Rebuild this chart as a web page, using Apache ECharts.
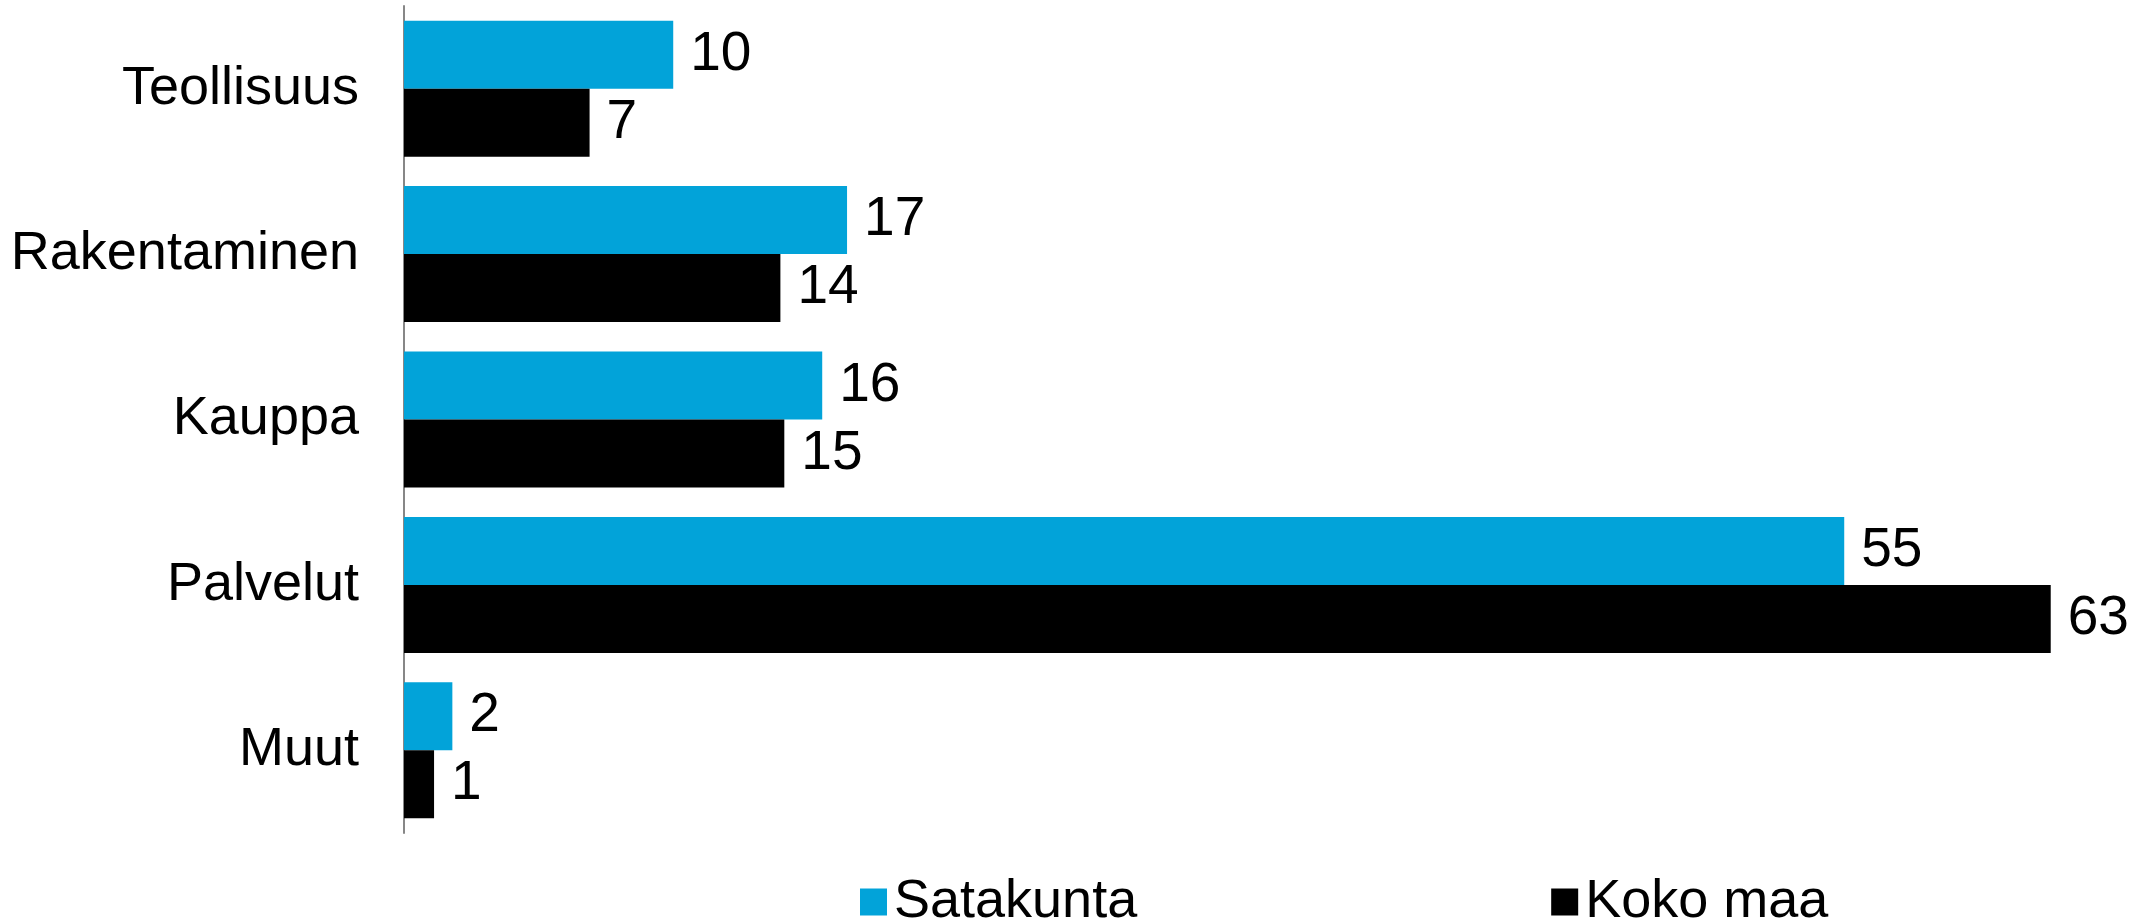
<!DOCTYPE html>
<html>
<head>
<meta charset="utf-8">
<script src="https://cdn.jsdelivr.net/npm/echarts@6/dist/echarts.min.js"></script>
<style>
  html, body { margin: 0; padding: 0; background: #fff; }
  #myChart { width: 2139px; height: 919px; }
</style>
</head>
<body>
<div id="myChart"></div>
<script>
  // toimialat ja osuudet (%)
  const categories = ['Teollisuus', 'Rakentaminen', 'Kauppa', 'Palvelut', 'Muut'];
  const satakunta = [10.3, 16.95, 16.0, 55.1, 1.85];
  const kokoMaa = [7.1, 14.4, 14.55, 63.0, 1.15];
  const seriesNames = ['Satakunta', 'Koko maa'];

  const font = 'Liberation Sans, Arial, sans-serif';
  let myChart = echarts.init(document.getElementById('myChart'));

  let labelOpt = {
    show: true,
    position: 'right',
    distance: 17,
    fontSize: 55,
    fontFamily: font,
    color: '#000',
    formatter: function (p) { return Math.round(p.value); }
  };

  let option = {
    animation: false,
    legend: {
      data: seriesNames,
      left: 855,
      top: 870,
      itemWidth: 27,
      itemHeight: 27,
      itemGap: 414,
      icon: 'rect',
      textStyle: {
        fontSize: 54,
        fontFamily: font,
        color: '#000',
        padding: [0, 0, 0, 2]
      }
    },
    grid: {
      left: 404,
      top: 6,
      bottom: 86,
      right: 36
    },
    xAxis: {
      type: 'value',
      min: 0,
      max: 65,
      axisLine: { show: false },
      axisTick: { show: false },
      axisLabel: { show: false },
      splitLine: { show: false }
    },
    yAxis: {
      type: 'category',
      inverse: true,
      data: categories,
      axisLine: { show: true, lineStyle: { color: '#878787', width: 2 } },
      axisTick: { show: false },
      axisLabel: {
        fontSize: 54,
        fontFamily: font,
        color: '#000',
        margin: 45
      }
    },
    series: [
      {
        name: seriesNames[0],
        type: 'bar',
        barWidth: 68,
        barGap: '0%',
        itemStyle: { color: '#02A3D9' },
        label: labelOpt,
        data: satakunta
      },
      {
        name: seriesNames[1],
        type: 'bar',
        barWidth: 68,
        itemStyle: { color: '#000' },
        label: labelOpt,
        data: kokoMaa
      }
    ]
  };
  myChart.setOption(option);
</script>
</body>
</html>
